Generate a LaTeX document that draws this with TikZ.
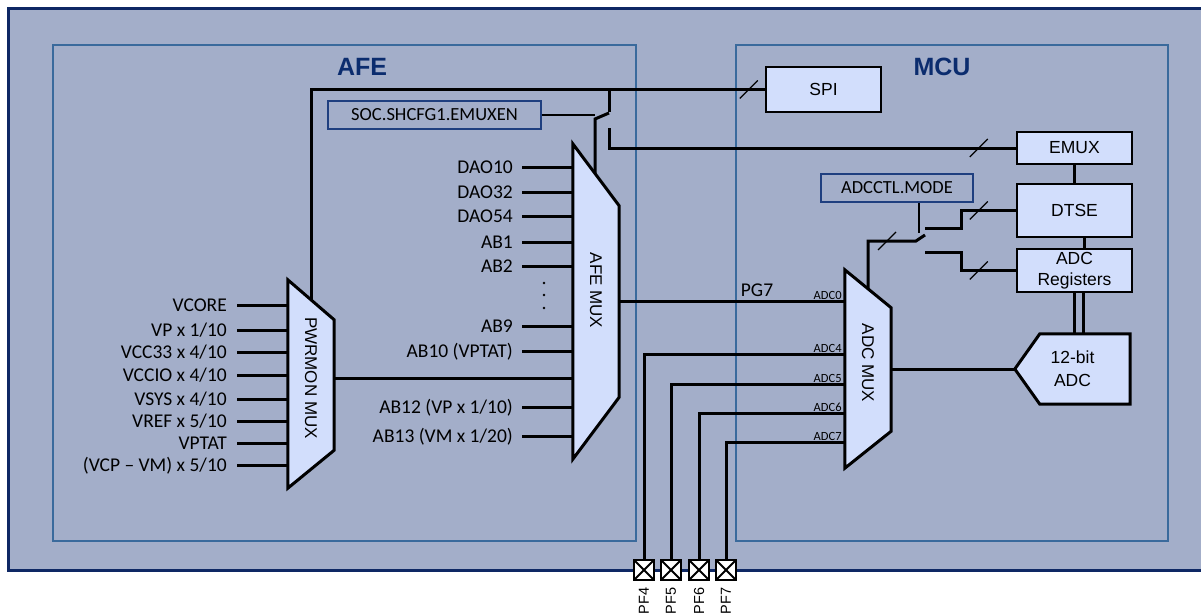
\documentclass[tikz,border=0pt]{standalone}
\usepackage{fontspec}
\setmainfont{Carlito}
\newfontfamily\arialfont{Liberation Sans}
\usetikzlibrary{calc,positioning}
\definecolor{bgfill}{HTML}{A3AEC9}
\definecolor{boxfill}{HTML}{D2DEFC}
\definecolor{frame}{HTML}{3A6A9C}
\definecolor{navy}{HTML}{0E2864}
\definecolor{ttlblue}{HTML}{0B2C6E}
\definecolor{regline}{HTML}{1F3F7F}

\begin{document}
\begin{tikzpicture}[
  x=1pt, y=-1pt,
  wire/.style={line width=3pt},
  ctl/.style={line width=1.2pt},
  slash/.style={line width=1.2pt},
  blk/.style={draw, line width=2.5pt, fill=boxfill, align=center, inner sep=0pt, font=\arialfont\fontsize{17.5}{21}\selectfont},
  muxbody/.style={inner sep=0pt},
  muxlbl/.style={font=\arialfont\fontsize{17}{19}\selectfont, rotate=-90, inner sep=0pt},
  lbl/.style={font=\fontsize{19.5}{21}\selectfont, inner sep=0pt, anchor=east, text height=12.5pt, text depth=0pt},
  reg/.style={draw=regline, line width=1.3pt, font=\fontsize{18.5}{20}\selectfont, inner sep=0pt, minimum height=28pt},
  pinlbl/.style={font=\fontsize{12.5}{13}\selectfont, inner sep=1pt, anchor=south east},
  pad/.style={draw, line width=2.5pt, fill=white, minimum size=20pt, inner sep=0pt,
    path picture={\draw[line width=2pt] (path picture bounding box.north west) -- (path picture bounding box.south east)
      (path picture bounding box.north east) -- (path picture bounding box.south west);}},
  pflbl/.style={font=\arialfont\fontsize{14.5}{16}\selectfont, rotate=90, anchor=east, inner sep=0pt},
  ttl/.style={font=\arialfont\bfseries\fontsize{25}{27}\selectfont, text=ttlblue}]
\useasboundingbox (0,0) rectangle (1201,614);
\clip (0,0) rectangle (1201,614);
% frames
\draw[navy, line width=3pt, fill=bgfill] (8,8) rectangle (1215,570);
\draw[frame, line width=2.8pt] (53,45) rectangle (636,541);
\draw[frame, line width=2.8pt] (736,45) rectangle (1168,541);
\node[ttl] (afettl) at (362,67) {AFE};
\node[ttl] (mcuttl) at (942,67) {MCU};
% mux bodies
\node[muxbody, minimum width=46pt, minimum height=208pt] (pwrmux) at (311,384) {};
\node[muxbody, minimum width=46pt, minimum height=315pt] (afemux) at (596,301.5) {};
\node[muxbody, minimum width=46pt, minimum height=198pt] (adcmux) at (868,369) {};
% MCU blocks
\node[blk, minimum width=115pt, minimum height=45pt] (spi) at (823.5,89.5) {SPI};
\node[blk, minimum width=115pt, minimum height=32pt] (emux) at (1074.5,148) {EMUX};
\node[blk, minimum width=115pt, minimum height=53pt] (dtse) at (1074.5,210.5) {DTSE};
\node[blk, minimum width=115pt, minimum height=43pt] (adcreg) at (1074.5,270.5) {ADC\\Registers};
\node[muxbody, minimum width=115pt, minimum height=70pt] (adc) at (1072.5,369) {};
% register fields
\node[reg, minimum width=213pt] (soc) at (434.5,115) {SOC.SHCFG1.EMUXEN};
\node[reg, minimum width=152pt] (adcctl) at (897,188) {ADCCTL.MODE};
% PWRMON inputs
\foreach \y/\t [count=\i] in {305/VCORE, 330/{VP x 1/10}, 352/{VCC33 x 4/10}, 375/{VCCIO x 4/10},
    399/{VSYS x 4/10}, 421/{VREF x 5/10}, 443/VPTAT, 465/{(VCP – VM) x 5/10}} {
  \node[lbl] (pwrin\i) at (227,\y) {\t};
  \draw[wire] ([xshift=10pt]pwrin\i.east) -- (pwrin\i.east -| pwrmux.west);
}
% AFE MUX inputs
\foreach \y/\t [count=\i] in {167/DAO10, 192/DAO32, 216/DAO54, 242/AB1, 266/AB2, 326/AB9,
    351/{AB10 (VPTAT)}, 407/{AB12 (VP x 1/10)}, 436/{AB13 (VM x 1/20)}} {
  \node[lbl] (afein\i) at (513,\y) {\t};
  \draw[wire] ([xshift=9pt]afein\i.east) -- (afein\i.east -| afemux.west);
}
\foreach \y in {283,295,308} \fill (544,\y) circle (1.3);
\coordinate (pwrout) at ([yshift=6pt]pwrmux.east);
\draw[wire] (pwrout) -- (pwrout -| afemux.west);
% AFE to ADC
\draw[wire] (afemux.east) -- (afemux.east -| adcmux.west) coordinate (adcin0);
\node[lbl, anchor=south] (pg7) at (757,297) {PG7};
\node[pinlbl] (adclbl0) at ([xshift=-2pt,yshift=1pt]adcin0) {ADC0};
% SPI and EMUX switch
\draw[wire] (pwrmux.center) |- (spi.west);
\draw[slash] ($(spi.west)+(-25,9)$) -- ++(18,-18);
\coordinate (socsw) at (595,119);
\coordinate (soctop) at (609,112);
\coordinate (socbot) at (609,128);
\draw[wire] (afemux.center -| socsw) -- (socsw) -- ++(14,-6);
\draw[wire] (soctop) -- (soctop |- spi.west);
\draw[wire] (socbot) |- (emux.west);
\draw[slash] ($(emux.west)+(-46,9)$) -- ++(18,-18);
\draw[ctl] (soc.east) -- (soc.east -| socsw);
% ADC mode switch
\coordinate (adcsw) at (916,241);
\coordinate (adcctrl) at (919,233);
\draw[wire] (adcmux.center) |- (adcsw) -- ++(9,-6);
\draw[slash] ($(adcsw)+(-38,9)$) -- ++(18,-18);
\draw[ctl] (adcctl.south -| adcctrl) -- (adcctrl);
\draw[wire] ($(adcsw)+(9,-13)$) -- ++(36,0) |- (dtse.west);
\draw[wire] ($(adcsw)+(9,11)$) -- ++(36,0) |- (adcreg.west);
\draw[slash] ($(dtse.west)+(-46,9)$) -- ++(18,-18);
\draw[slash] ($(adcreg.west)+(-46,9)$) -- ++(18,-18);
% block links
\draw[wire] (emux.south) -- (dtse.north);
\draw[wire] ([xshift=10pt]dtse.south) -- ([xshift=10pt]adcreg.north);
\foreach \dx in {0pt,9pt} \draw[wire] ([xshift=\dx]adcreg.south) -- ([xshift=\dx]adcreg.south |- adc.north);
\draw[wire] (adcmux.center) -- (adc.west);
% pins
\foreach \x/\n in {644/4, 671/5, 699/6, 726/7} {
  \node[pad] (pf\n) at (\x,570) {};
  \node[pflbl] (pflbl\n) at ([yshift=-6pt]pf\n.south) {PF\n};
}
\foreach \n/\d in {4/85, 5/115, 6/144, 7/173} {
  \draw[wire] (pf\n.north) |- ($(adcmux.north west)+(0,\d)$) coordinate (adcin\n);
  \node[pinlbl] (adclbl\n) at ([xshift=-2pt,yshift=1pt]adcin\n) {ADC\n};
}
% mux shapes
\draw[wire, fill=boxfill] (pwrmux.north west) -- ($(pwrmux.north east)+(0,40)$) -- ($(pwrmux.south east)-(0,38)$) -- (pwrmux.south west) -- cycle;
\draw[wire, fill=boxfill] (afemux.north west) -- ($(afemux.north east)+(0,62)$) -- ($(afemux.south east)-(0,62)$) -- (afemux.south west) -- cycle;
\draw[wire, fill=boxfill] (adcmux.north west) -- ($(adcmux.north east)+(0,38)$) -- ($(adcmux.south east)-(0,37)$) -- (adcmux.south west) -- cycle;
\draw[wire, fill=boxfill] (adc.west) -- ($(adc.north west)+(25,0)$) -- (adc.north east) -- (adc.south east) -- ($(adc.south west)+(25,0)$) -- cycle;
\node[muxlbl] (pwrlbl) at ([yshift=6pt]pwrmux.center) {PWRMON MUX};
\node[muxlbl] (afelbl) at ([yshift=11pt]afemux.center) {AFE MUX};
\node[muxlbl] (adclbl) at ([yshift=6pt]adcmux.center) {ADC MUX};
\node[font=\arialfont\fontsize{17.5}{23}\selectfont, align=center] (adctxt) at (adc.center) {12-bit\\ADC};
\end{tikzpicture}
\end{document}
